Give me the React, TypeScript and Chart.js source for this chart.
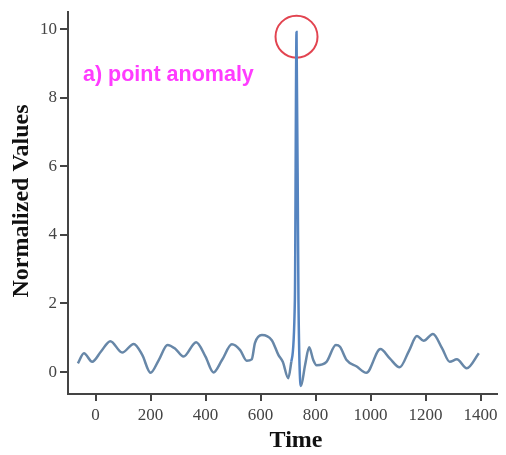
import React, { useEffect, useRef } from "react";
import { Chart, registerables } from "chart.js";

Chart.register(...registerables);

const timeValues = [
  -64, -42, -12, 20, 54, 97, 139, 170, 200, 230, 262, 290, 320, 366, 400, 429,
  460, 496, 526, 550, 568, 580, 605, 641, 665, 681, 701, 712, 725, 731, 738,
  747, 762, 777, 792, 804, 840, 874, 889, 913, 950, 985, 1036, 1070, 1106,
  1140, 1169, 1193, 1227, 1260, 1288, 1314, 1350, 1394,
];
const normValues = [
  0.25, 0.55, 0.3, 0.6, 0.9, 0.57, 0.82, 0.5, -0.02, 0.35, 0.79, 0.68, 0.45,
  0.87, 0.45, -0.01, 0.35, 0.81, 0.64, 0.33, 0.37, 0.85, 1.08, 0.93, 0.5, 0.3,
  -0.18, 0.3, 2.1, 9.92, 2.1, -0.41, 0.2, 0.72, 0.35, 0.2, 0.3, 0.79, 0.74,
  0.35, 0.16, -0.02, 0.67, 0.4, 0.14, 0.62, 1.05, 0.91, 1.11, 0.7, 0.3, 0.37,
  0.11, 0.55,
];
const anomalyTime = [731];
const anomalyValue = [9.78];
const xTickValues = [0, 200, 400, 600, 800, 1000, 1200, 1400];
const yTickValues = [0, 2, 4, 6, 8, 10];
const xAxisTitle = "Time";
const yAxisTitle = "Normalized Values";
const annotationText = "a) point anomaly";

export default function App() {
  const ref = useRef<HTMLCanvasElement | null>(null);

  useEffect(() => {
    if (!ref.current) return;
    const textPlugin = {
      id: "texts",
      afterDraw(chart: any) {
        const ctx = chart.ctx;
        ctx.save();
        ctx.fillStyle = "#ff3cff";
        ctx.font = "bold 21.5px 'Liberation Sans', Arial, sans-serif";
        ctx.textAlign = "left";
        ctx.textBaseline = "alphabetic";
        ctx.fillText(annotationText, 83, 81);

        ctx.fillStyle = "#111";
        ctx.font = "bold 24px 'Liberation Serif', 'Times New Roman', serif";
        ctx.textAlign = "center";
        ctx.fillText(xAxisTitle, 296, 447);

        ctx.translate(28, 201);
        ctx.rotate(-Math.PI / 2);
        ctx.fillText(yAxisTitle, 0, 0);
        ctx.restore();
      },
    };

    const zeroPad = (s: any) => {
      s.paddingTop = 0;
      s.paddingBottom = 0;
      s.paddingLeft = 0;
      s.paddingRight = 0;
    };

    const chart = new Chart(ref.current, {
      type: "line",
      data: {
        datasets: [
          {
            data: timeValues.map((t, i) => ({ x: t, y: normValues[i] })),
            borderColor: "#6787a8",
            borderWidth: 2.5,
            pointRadius: 0,
            fill: false,
            cubicInterpolationMode: "monotone",
            segment: {
              borderColor: (c: any) =>
                c.p0.parsed.y > 1.5 || c.p1.parsed.y > 1.5 ? "#5584c0" : undefined,
            },
          } as any,
          {
            type: "scatter",
            data: anomalyTime.map((t, i) => ({ x: t, y: anomalyValue[i] })),
            pointRadius: 21,
            pointStyle: "circle",
            borderColor: "#e24450",
            borderWidth: 2,
            backgroundColor: "rgba(0,0,0,0)",
            clip: false,
          } as any,
        ],
      },
      options: {
        animation: false,
        responsive: false,
        maintainAspectRatio: false,
        layout: { autoPadding: false, padding: { top: 12, right: 9, left: 0, bottom: 0 } },
        plugins: { legend: { display: false }, tooltip: { enabled: false } },
        scales: {
          x: {
            type: "linear",
            min: -100,
            max: 1460,
            afterBuildTicks: (s: any) => {
              s.ticks = xTickValues.map((v) => ({ value: v }));
            },
            afterFit: (s: any) => {
              s.height = 61;
              zeroPad(s);
            },
            ticks: {
              autoSkip: false,
              maxRotation: 0,
              padding: 4,
              color: "#444",
              font: { family: "'Liberation Serif', 'Times New Roman', serif", size: 17 },
              callback: (v: any) => String(v),
            },
            grid: {
              drawOnChartArea: false,
              drawTicks: true,
              tickLength: 7,
              color: "#444",
              lineWidth: 2,
            },
            border: { display: true, color: "#444", width: 2 },
          },
          y: {
            type: "linear",
            min: -0.64,
            max: 10.5,
            afterBuildTicks: (s: any) => {
              s.ticks = yTickValues.map((v) => ({ value: v }));
            },
            afterFit: (s: any) => {
              s.width = 68;
              zeroPad(s);
            },
            ticks: {
              autoSkip: false,
              padding: 3,
              color: "#444",
              font: { family: "'Liberation Serif', 'Times New Roman', serif", size: 17 },
              callback: (v: any) => String(v),
            },
            grid: {
              drawOnChartArea: false,
              drawTicks: true,
              tickLength: 8,
              color: "#444",
              lineWidth: 2,
            },
            border: { display: true, color: "#444", width: 2 },
          },
        },
      } as any,
      plugins: [textPlugin],
    });
    return () => chart.destroy();
  }, []);

  return (
    <div style={{ position: "absolute", left: 0, top: 0, width: 506, height: 455, background: "#fff" }}>
      <canvas ref={ref} width={506} height={455} style={{ width: 506, height: 455 }} />
    </div>
  );
}
